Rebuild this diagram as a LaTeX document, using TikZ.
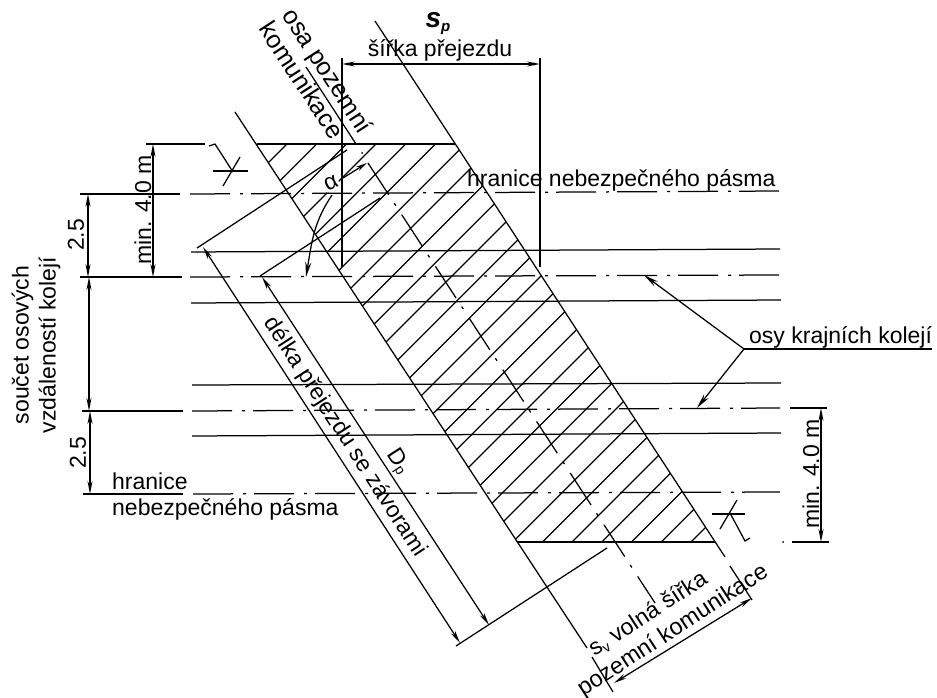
\documentclass[tikz,border=0pt]{standalone}
\usepackage{fontspec}
\setmainfont{Liberation Sans}
\usetikzlibrary{arrows.meta}
\tikzset{
  base/.style={line width=1.25pt,black},
  thick line/.style={line width=2.6pt,black},
  axisline/.style={base,dash pattern=on 40pt off 10pt on 3pt off 8pt},
  roadaxis/.style={base,dash pattern=on 38pt off 10pt on 3pt off 10.7pt},
  dimarrow/.style={base,{Stealth[length=13pt,width=5pt]}-{Stealth[length=13pt,width=5pt]}},
  onearrow/.style={base,-{Stealth[length=15pt,width=6pt]}},
  lbl/.style={inner sep=0pt,font=\fontsize{23}{27}\selectfont,align=center},
  lblbig/.style={inner sep=0pt,font=\fontsize{25}{29}\selectfont,align=center},
}
\begin{document}
\begin{tikzpicture}[x=1pt,y=-1pt]
\useasboundingbox (0,0) rectangle (937,698);
% key coordinates
\coordinate (RLt) at (235,112); \coordinate (RLb) at (587,648);
\coordinate (RRt) at (375,21);  \coordinate (RRb) at (725,557);
\coordinate (A) at (256,144); \coordinate (B) at (455,144);
\coordinate (C) at (715,542); \coordinate (D) at (517,542);
% hatching
\begin{scope}
\clip (A) -- (B) -- (C) -- (D) -- cycle;
\foreach \k in {-1,...,27}{
  \pgfmathsetmacro{\c}{431+29.7*\k}
  \draw[base] ({\c-144},144) -- ({\c-542},542);
}
\end{scope}
% alpha label masks the hatching
\node[lbl,fill=white,rotate=25,inner sep=1pt] (alpha) at (331,183) {α};
% tracks
\draw[base] (191,252) -- (780,249);
\draw[base] (191,303) -- (781,300);
\draw[base] (192,385) -- (781,383);
\draw[base] (192,436) -- (781,433);
% axes
\draw[base] (80,194) -- (180,194);
\draw[axisline] (190,194) -- (780,191);
\draw[base] (80,277) -- (182,277);
\draw[axisline] (190,277) -- (780,275);
\draw[base] (82,411) -- (183,411);
\draw[axisline] (192,411) -- (780,408);
\draw[base] (790,408) -- (827,408);
\draw[base] (83,494) -- (183,494);
\draw[axisline] (193,494) -- (780,492);
% top and bottom of crossing
\draw[thick line] (257,144) -- (346,144);
\draw[base] (346,144) -- (B);
\draw[base] (D) -- (C);
\draw[thick line] (615,542) -- (714,542);
\draw[base] (146,144) -- (205,144);
\draw[base] (792,542) -- (829,542);
\fill (783,542) circle (1pt);
% road edges
\draw[base] (RLt) -- (RLb);
\draw[base] (592,657) -- (613,692);
\draw[base] (RRt) -- (RRb);
\draw[base] (730,566) -- (752,600);
% road axis
\draw[base] (306,67) -- (356,144);
\fill (362,153) circle (1pt);
\draw[roadaxis] (368,163) -- (655,603);
% width s_p
\draw[base] (342,58) -- (342,267);
\draw[base] (540,58) -- (540,267);
\draw[dimarrow] (342,64) -- (540,64);
% length dimensions
\draw[dimarrow] (203,247) -- (460,643);
\draw[dimarrow] (262,277) -- (489,625);
\draw[base] (197,248) -- (347,150);
\draw[base] (260,276) -- (380,198);
\draw[base] (456,646) -- (607,548);
% free width s_v
\draw[dimarrow] (614,683) -- (752,598);
% angle
\draw[base,-{Stealth[length=11pt,width=5pt]}] (343,178) -- (367,163);
\draw[onearrow] (332,195) .. controls (314,222) and (312,240) .. (306,277);
% minimum distances
\draw[dimarrow] (153,144) -- (153,277);
\draw[dimarrow] (88,194) -- (88,277);
\draw[dimarrow] (89,277) -- (89,411);
\draw[dimarrow] (90,411) -- (90,494);
\draw[dimarrow] (821,408) -- (821,542);
% leader
\draw[base] (932,349) -- (744,349);
\draw[onearrow] (744,349) -- (644,275);
\draw[onearrow] (744,349) -- (697,408);
% barrier marks
\draw[base] (209,146) -- (215,144) -- (233,172);
\draw[base] (213,171) -- (248,171);
\draw[base] (240,157) -- (223,186);
\draw[base] (712,514) -- (745,514);
\draw[base] (737,500) -- (720,529);
\draw[base] (730,513) -- (745,541) -- (750,538);
% labels
\node[lbl] (sp) at (438,24) {\fontsize{28}{28}\selectfont\textbf{\textit{s}}\raisebox{-4pt}{\fontsize{15}{15}\selectfont\textbf{\textit{p}}}};
\node[lbl] (sirka) at (440,50) {šířka přejezdu};
\node[lblbig,rotate=-57] (osa) at (326,72) {osa pozemní};
\node[lblbig,rotate=-57] (kom) at (302,80) {komunikace};
\node[lbl,anchor=west] (hr1) at (467,180) {hranice nebezpečného pásma};
\node[lbl,rotate=90] (m1) at (143,210) {min. 4.0 m};
\node[lbl,rotate=90] (a1) at (76,235) {2.5};
\node[lbl,rotate=90] (sou) at (36,345) {součet osových\\vzdáleností kolejí};
\node[lbl,rotate=90] (a2) at (78,453) {2.5};
\node[lbl,anchor=west] (hr2) at (112,481) {hranice};
\node[lbl,anchor=west] (hr3) at (112,509) {nebezpečného pásma};
\node[lbl,rotate=-57] (del) at (345,437) {délka přejezdu se závorami};
\node[lbl,rotate=-57] (dp) at (398,462) {D\raisebox{-2pt}{\fontsize{14}{14}\selectfont p}};
\node[lbl,anchor=west] (osy) at (749,337) {osy krajních kolejí};
\node[lbl,rotate=90] (m2) at (811,474) {min. 4.0 m};
\node[lbl,rotate=33] (sv) at (648,614) {s\raisebox{-3pt}{\fontsize{14}{14}\selectfont v} volná šířka};
\node[lbl,rotate=33,font=\fontsize{23.5}{28}\selectfont] (poz) at (673,631) {pozemní komunikace};
\end{tikzpicture}
\end{document}
